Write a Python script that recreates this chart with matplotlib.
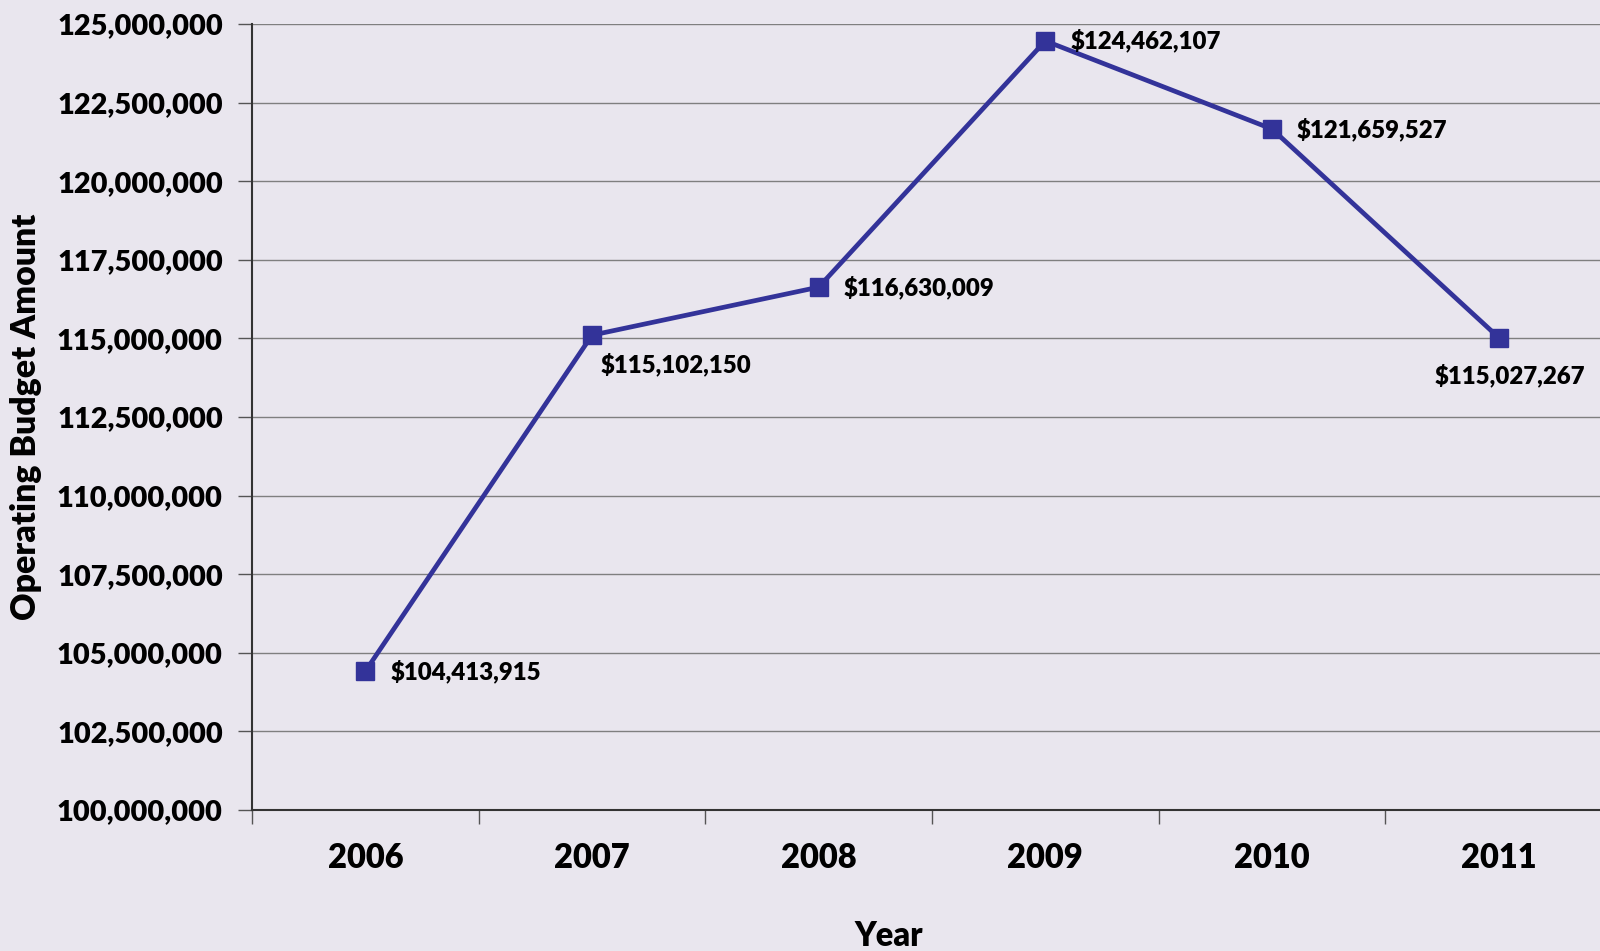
import matplotlib
matplotlib.use("Agg")
import matplotlib.pyplot as plt
from matplotlib.ticker import FuncFormatter, FixedLocator

# Operating budget by year
years = ["2006", "2007", "2008", "2009", "2010", "2011"]
budget = [104413915, 115102150, 116630009, 124462107, 121659527, 115027267]

# label offsets in points (dx, dy)
label_offsets = [(18, 0), (6, -21), (18, 0), (18, 0), (18, 0), (-46, -27)]

plt.rcParams["font.family"] = ["Lato", "DejaVu Sans"]
W = "heavy"

bg = "#E9E6EE"
line_color = "#333399"

fig = plt.figure(figsize=(16, 9.51), dpi=100, facecolor=bg)
# category axis is slightly wider than the figure, last slot runs past the edge
ax = fig.add_axes([252 / 1600, 1 - 810 / 951, 1360 / 1600, (810 - 24) / 951])
ax.set_facecolor(bg)

x = list(range(len(years)))
ax.plot(x, budget, color=line_color, lw=3.4, marker="s", markersize=13,
        markerfacecolor=line_color, markeredgecolor=line_color, zorder=3, clip_on=False)

for xi, val, (dx, dy) in zip(x, budget, label_offsets):
    ax.annotate(f"${val:,.0f}", (xi, val), xytext=(dx, dy), textcoords="offset points",
                ha="left", va="center", fontsize=17.3, fontweight=W, color="black")

ax.set_xlim(-0.5, len(years) - 0.5)
ax.set_ylim(100000000, 125000000)
ax.set_yticks(range(100000000, 125000001, 2500000))
ax.yaxis.set_major_formatter(FuncFormatter(lambda v, p: f"{v:,.0f}"))
ax.grid(axis="y", color="#7F7F7F", lw=1.0)
ax.set_axisbelow(True)

ax.set_xticks(x)
ax.set_xticklabels(years, fontsize=23.5, fontweight=W)
ax.xaxis.set_minor_locator(FixedLocator([i + 0.5 for i in range(-1, len(years))]))
ax.tick_params(axis="x", which="major", length=0, pad=23)
ax.tick_params(axis="x", which="minor", length=10, width=1, color="#555555", direction="out")
ax.tick_params(axis="y", length=10, width=1, color="#555555", labelsize=20.8, pad=11)
for lab in ax.get_yticklabels():
    lab.set_fontweight(W)

for side in ["top", "right"]:
    ax.spines[side].set_visible(False)
for side in ["left", "bottom"]:
    ax.spines[side].set_color("#333333")
    ax.spines[side].set_linewidth(1.5)

ax.set_xlabel("Year", fontsize=23.5, fontweight=W, va="center")
ax.xaxis.set_label_coords(0.468, -0.16)
ax.set_ylabel("Operating Budget Amount", fontsize=24.4, fontweight=W, va="center")
ax.yaxis.set_label_coords(-(252 - 26) / 1360, 0.5)

fig.savefig("out.png", dpi=100, facecolor=bg)
